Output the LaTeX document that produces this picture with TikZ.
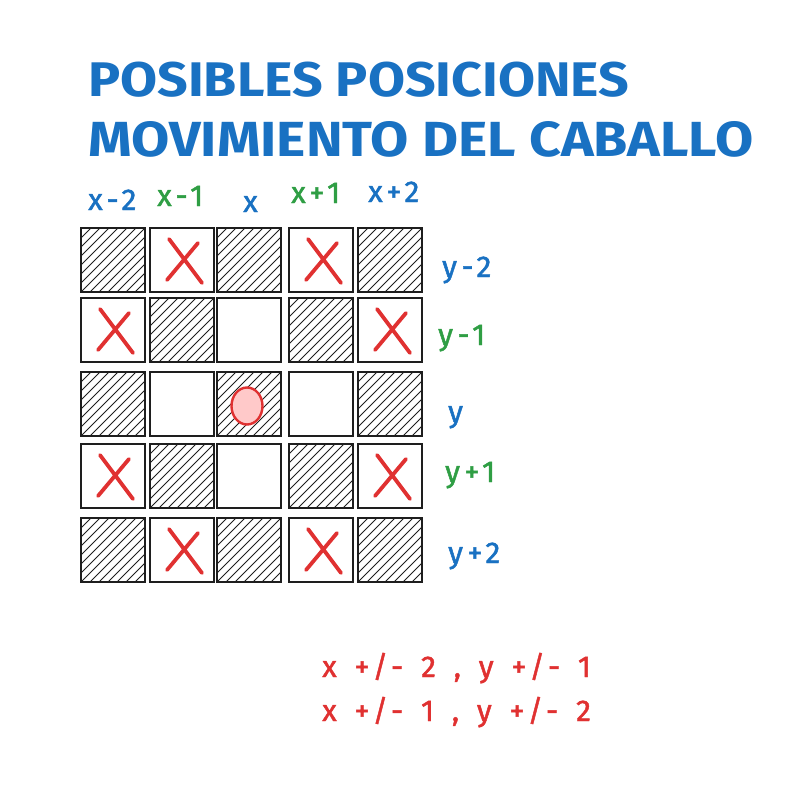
\documentclass[tikz,border=0pt]{standalone}
\usepackage{fontspec}
\setmainfont{Fira Sans}
\newfontfamily\handfont[LetterSpace=16,WordSpace=1.4,FakeBold=1.5]{Fira Sans}
\usetikzlibrary{shapes.geometric}
\definecolor{xblue}{HTML}{1971C2}
\definecolor{xgreen}{HTML}{2F9E44}
\definecolor{xred}{HTML}{E03131}
\definecolor{xpink}{HTML}{FFC9C9}
\definecolor{xink}{HTML}{1E1E1E}
\tikzset{
  square/.style={draw=xink,line width=2.6pt,minimum size=64pt,inner sep=0pt},
  hatched/.style={square,path picture={
    \foreach \d in {-72,-63,...,72}
      \draw[xink,line width=1pt]
        ([shift={(\d pt-40pt,-40pt)}]path picture bounding box.center) -- ([shift={(\d pt+40pt,40pt)}]path picture bounding box.center);}},
  crossed/.style={square,path picture={
    \draw[xred,line width=3.8pt,line cap=round]
      ([shift={(-13pt,21pt)}]path picture bounding box.center) -- ([shift={(20pt,-23pt)}]path picture bounding box.center)
      ([shift={(16pt,17pt)}]path picture bounding box.center) -- ([shift={(-15pt,-20pt)}]path picture bounding box.center);}},
  lbl/.style={anchor=base west,inner sep=0pt,font=\handfont\fontsize{30}{32}\selectfont},
  titleline/.style={anchor=base west,inner sep=0pt,text=xblue,font=\bfseries}
}
\begin{document}
\begin{tikzpicture}[x=1pt,y=-1pt]
\useasboundingbox (0,0) rectangle (784,805);
% titulo
\node[titleline] (tit1) at (88,97) {\resizebox{541pt}{34.5pt}{POSIBLES POSICIONES}};
\node[titleline] (tit2) at (88,157) {\resizebox{665pt}{35pt}{MOVIMIENTO DEL CABALLO}};
% tablero 5x5
\node[hatched] (r0c0) at (113,260) {};
\node[crossed] (r0c1) at (182,260) {};
\node[hatched] (r0c2) at (249,260) {};
\node[crossed] (r0c3) at (321,260) {};
\node[hatched] (r0c4) at (390,260) {};
\node[crossed] (r1c0) at (113,330) {};
\node[hatched] (r1c1) at (182,330) {};
\node[square]  (r1c2) at (249,330) {};
\node[hatched] (r1c3) at (321,330) {};
\node[crossed] (r1c4) at (390,330) {};
\node[hatched] (r2c0) at (113,404) {};
\node[square]  (r2c1) at (182,404) {};
\node[hatched] (r2c2) at (249,404) {};
\node[square]  (r2c3) at (321,404) {};
\node[hatched] (r2c4) at (390,404) {};
\node[crossed] (r3c0) at (113,476) {};
\node[hatched] (r3c1) at (182,476) {};
\node[square]  (r3c2) at (249,476) {};
\node[hatched] (r3c3) at (321,476) {};
\node[crossed] (r3c4) at (390,476) {};
\node[hatched] (r4c0) at (113,550) {};
\node[crossed] (r4c1) at (182,550) {};
\node[hatched] (r4c2) at (249,550) {};
\node[crossed] (r4c3) at (321,550) {};
\node[hatched] (r4c4) at (390,550) {};
% caballo
\node[ellipse,draw=xred,fill=xpink,line width=2.4pt,minimum width=31pt,minimum height=37pt,inner sep=0pt] (caballo) at (247,406) {};
% columnas
\node[lbl,text=xblue]  (xm2) at (88,210)  {x-2};
\node[lbl,text=xgreen] (xm1) at (157,206) {x-1};
\node[lbl,text=xblue]  (x0)  at (243,212) {x};
\node[lbl,text=xgreen] (xp1) at (291,203) {x+1};
\node[lbl,text=xblue]  (xp2) at (368,202) {x+2};
% filas
\node[lbl,text=xblue]  (ym2) at (442,277) {y-2};
\node[lbl,text=xgreen] (ym1) at (438,345) {y-1};
\node[lbl,text=xblue]  (y0)  at (448,422) {y};
\node[lbl,text=xgreen] (yp1) at (445,482) {y+1};
\node[lbl,text=xblue]  (yp2) at (448,563) {y+2};
% regla
\node[lbl,text=xred] (regla1) at (322,677) {x +/- 2 , y +/- 1};
\node[lbl,text=xred] (regla2) at (322,721) {x +/- 1 , y +/- 2};
\end{tikzpicture}
\end{document}
